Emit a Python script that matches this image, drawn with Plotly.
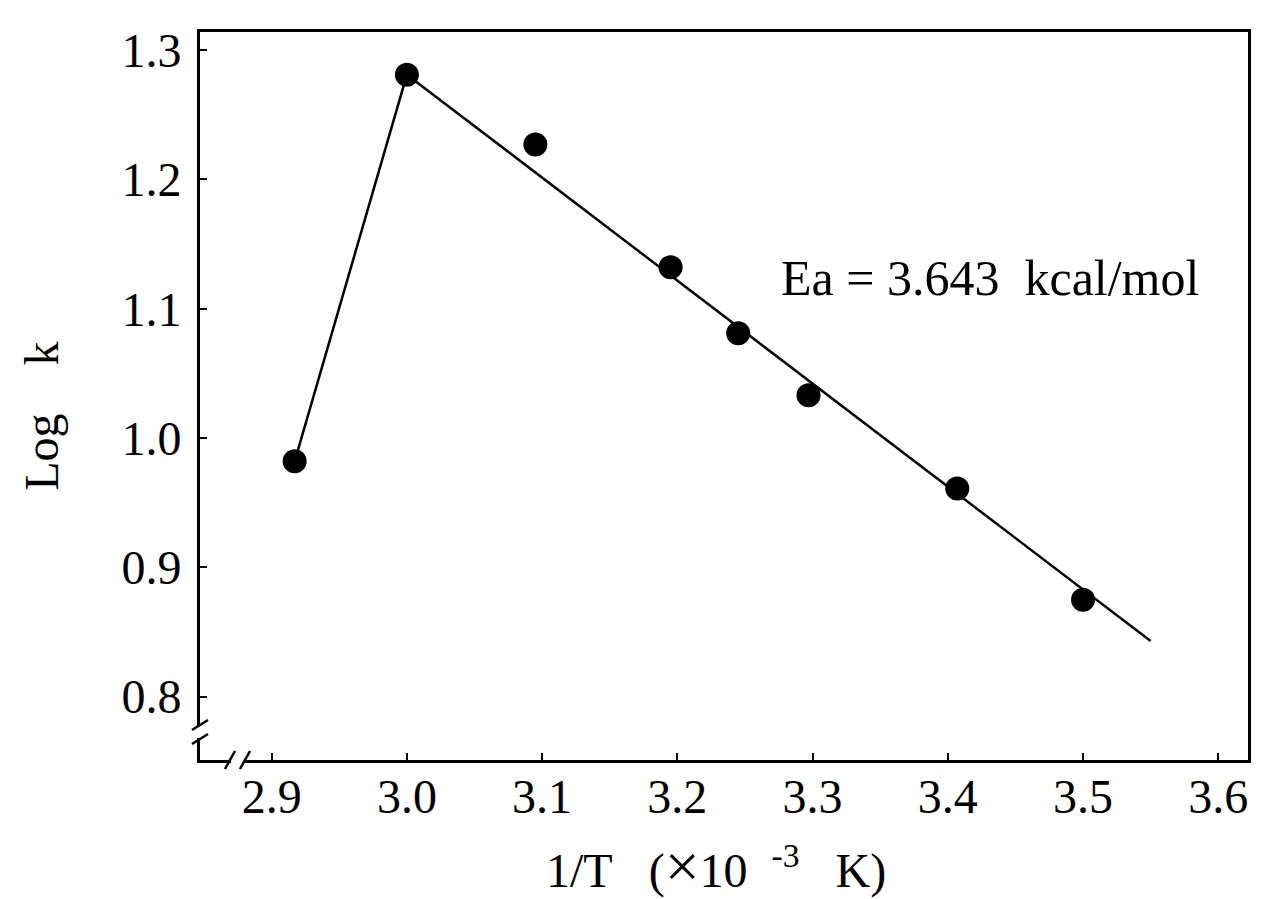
import plotly.graph_objects as go

# Measured points: reciprocal temperature (x10^-3 K^-1) vs log of rate constant
inv_T = [2.917, 3.0, 3.095, 3.195, 3.245, 3.297, 3.407, 3.5]
log_k = [0.982, 1.281, 1.227, 1.132, 1.081, 1.033, 0.961, 0.875]

# Rising branch joining the first two points
rise_x = [2.917, 3.0]
rise_y = [0.982, 1.281]

# Arrhenius fit line for the descending branch
fit_x = [3.0, 3.55]
fit_y = [1.281, 0.843]

x_ticks = [2.9, 3.0, 3.1, 3.2, 3.3, 3.4, 3.5, 3.6]
x_tick_text = ["2.9", "3.0", "3.1", "3.2", "3.3", "3.4", "3.5", "3.6"]
y_ticks = [0.8, 0.9, 1.0, 1.1, 1.2, 1.3]
y_tick_text = ["0.8", "0.9", "1.0", "1.1", "1.2", "1.3"]

X_RANGE = [2.847, 3.622]
Y_RANGE = [0.751, 1.314]

SERIF = "Liberation Serif, Times New Roman, serif"
NB = "\u00a0"

fig = go.Figure()

fig.add_trace(go.Scatter(x=rise_x, y=rise_y, mode="lines",
                         line=dict(color="black", width=2.5),
                         showlegend=False, hoverinfo="skip"))
fig.add_trace(go.Scatter(x=fit_x, y=fit_y, mode="lines",
                         line=dict(color="black", width=2.5),
                         showlegend=False, hoverinfo="skip"))
fig.add_trace(go.Scatter(x=inv_T, y=log_k, mode="markers",
                         marker=dict(color="black", size=24),
                         showlegend=False))

axis_common = dict(
    showgrid=False, zeroline=False, showline=True, linecolor="black",
    linewidth=3, mirror=True, ticks="inside", ticklen=7, tickwidth=2,
    tickcolor="black", tickfont=dict(family=SERIF, size=48, color="black"),
)

fig.update_xaxes(range=X_RANGE, tickvals=x_ticks, ticktext=x_tick_text,
                 ticklabelstandoff=-8, **axis_common)
fig.update_yaxes(range=Y_RANGE, tickvals=y_ticks, ticktext=y_tick_text,
                 ticklabelstandoff=6, **axis_common)

# Axis-break marks near the lower-left corner
W, H = 1048.0, 728.0  # plot area size in pixels


def px(xp):
    return xp / W


def py(yp):
    return yp / H


shapes = []
# gaps in the axis lines
shapes.append(dict(type="rect", xref="paper", yref="paper", layer="above",
                   x0=px(-4), x1=px(4), y0=py(22), y1=py(34),
                   fillcolor="white", line=dict(width=0)))
shapes.append(dict(type="rect", xref="paper", yref="paper", layer="above",
                   x0=px(31), x1=px(44), y0=py(-4), y1=py(4),
                   fillcolor="white", line=dict(width=0)))
# slashes on the y axis
for yc in (21, 35):
    shapes.append(dict(type="line", xref="paper", yref="paper", layer="above",
                       x0=px(-8), y0=py(yc - 5), x1=px(8), y1=py(yc + 5),
                       line=dict(color="black", width=2.5)))
# slashes on the x axis
for xc in (30, 45):
    shapes.append(dict(type="line", xref="paper", yref="paper", layer="above",
                       x0=px(xc - 5), y0=py(-9), x1=px(xc + 5), y1=py(9),
                       line=dict(color="black", width=2.5)))

annotations = [
    dict(x=3.431, y=1.124, xref="x", yref="y", showarrow=False,
         xanchor="center", yanchor="middle",
         text="Ea" + NB + "=" + NB + "3.643" + NB * 2 + "kcal/mol",
         font=dict(family=SERIF, size=50, color="black")),
    dict(x=0.492, y=-0.146, xref="paper", yref="paper", showarrow=False,
         xanchor="center", yanchor="middle",
         text="1/T" + NB * 3 + "(<span style='font-size:62px'>\u00d7</span>"
              + "10" + NB * 2 + "<sup>-3</sup>" + NB * 3 + "K)",
         font=dict(family=SERIF, size=48, color="black")),
    dict(x=-0.152, y=0.4725, xref="paper", yref="paper", showarrow=False,
         xanchor="center", yanchor="middle",
         text="Log" + NB * 4 + "k", textangle=-90,
         font=dict(family=SERIF, size=48, color="black")),
]

fig.update_layout(
    width=1272, height=899,
    margin=dict(l=200, r=24, t=32, b=139),
    paper_bgcolor="white", plot_bgcolor="white",
    shapes=shapes, annotations=annotations,
    showlegend=False,
)

fig.write_html("out.html")
